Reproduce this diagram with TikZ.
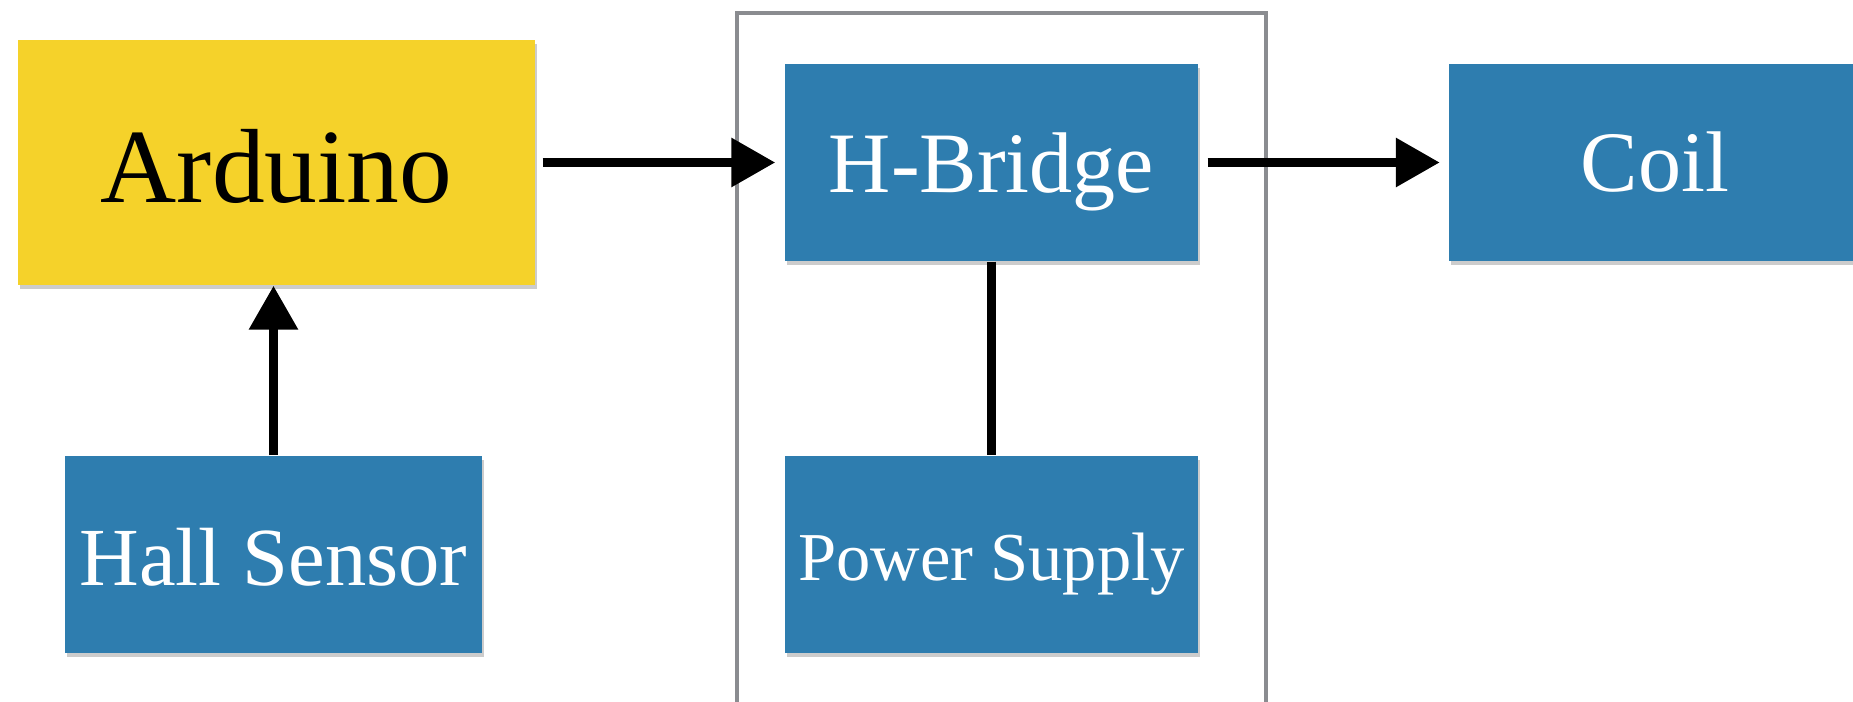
\documentclass[tikz,border=0pt]{standalone}
\usepackage{fontspec}
\setmainfont{Liberation Serif}
\usetikzlibrary{arrows.meta,shadows}

\definecolor{boxblue}{RGB}{46,125,175}
\definecolor{boxyellow}{RGB}{245,210,42}
\definecolor{framegray}{RGB}{138,140,144}

\tikzset{
    block/.style={rectangle, inner sep=0pt, text=white, text depth=0pt,
        drop shadow={shadow xshift=0.02cm, shadow yshift=-0.04cm, opacity=0.4}},
    link/.style={line width=0.095cm},
    flow/.style={link, -{Triangle[length=0.44cm, width=0.47cm]}}
}

\begin{document}
\begin{tikzpicture}
    \useasboundingbox (0,0) rectangle (18.53,7.01);

    % controller side
    \node[block, fill=boxyellow, text=black, minimum width=5.17cm, minimum height=2.45cm,
          text height=22.6pt, font=\fontsize{30}{36}\selectfont] (arduino) at (2.765,5.385) {Arduino};
    \node[block, fill=boxblue, minimum width=4.17cm, minimum height=1.97cm,
          text height=17.5pt, font=\fontsize{23.5}{28}\selectfont] (hall) at (2.735,1.465) {Hall Sensor};

    % driver stage
    \draw[framegray, line width=0.035cm] (7.37,-0.2) rectangle (12.66,6.88);
    \node[block, fill=boxblue, minimum width=4.13cm, minimum height=1.97cm,
          text height=16.9pt, font=\fontsize{24.5}{29}\selectfont] (hbridge) at (9.915,5.385) {H-Bridge};
    \node[block, fill=boxblue, minimum width=4.13cm, minimum height=1.97cm,
          text height=14.8pt, font=\fontsize{19.5}{24}\selectfont] (power) at (9.915,1.465) {Power Supply};

    % load
    \node[block, fill=boxblue, minimum width=4.13cm, minimum height=1.97cm,
          text height=16.6pt, font=\fontsize{24.5}{29}\selectfont] (coil) at (16.55,5.385) {Coil};

    \draw[flow, shorten <=0.07cm, shorten >=0.09cm] (arduino.east) -- (hbridge.west);
    \draw[flow, shorten <=0.09cm, shorten >=0.08cm] (hbridge.east) -- (coil.west);
    \draw[flow] (hall.north) -- (hall.north |- arduino.south);
    \draw[link] (hbridge.south) -- (power.north);
\end{tikzpicture}
\end{document}
